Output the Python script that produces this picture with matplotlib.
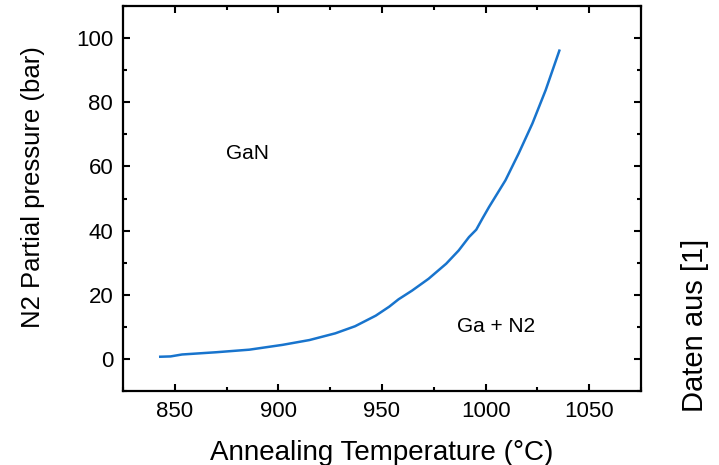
import matplotlib
matplotlib.use("Agg")
import matplotlib.pyplot as plt
from matplotlib.ticker import MultipleLocator

plt.rcParams["font.family"] = ["Liberation Sans", "DejaVu Sans"]

# curve
temperature = [843, 848, 853.5, 870, 886, 902, 915, 927.5, 937, 947, 953.5,
               958, 964.5, 972.5, 981, 987, 992, 995.5, 998.5, 1001.7, 1005.7,
               1009.6, 1016, 1022.6, 1029, 1035.6]
pressure = [0.7, 0.8, 1.4, 2.1, 2.9, 4.4, 5.9, 8.0, 10.2, 13.5, 16.3,
            18.6, 21.3, 25.0, 29.7, 33.8, 38.0, 40.3, 43.8, 47.4, 51.6,
            55.7, 64.1, 73.4, 83.8, 96.1]

fig = plt.figure(figsize=(7.19, 4.65), dpi=100)
ax = fig.add_axes([0.171, 0.159, 0.7205, 0.828])

ax.plot(temperature, pressure, color="#1874CD", lw=1.8)

ax.set_xlim(825, 1075)
ax.set_ylim(-10, 110)
ax.xaxis.set_major_locator(MultipleLocator(50))
ax.xaxis.set_minor_locator(MultipleLocator(25))
ax.yaxis.set_major_locator(MultipleLocator(20))
ax.yaxis.set_minor_locator(MultipleLocator(10))
ax.tick_params(which="both", direction="in", top=True, right=True, width=1.5,
               labelsize=16, pad=7)
ax.tick_params(which="major", length=5)
ax.tick_params(which="minor", length=3)
for s in ax.spines.values():
    s.set_linewidth(1.6)

ax.set_xlabel("Annealing Temperature (°C)", fontsize=20, labelpad=13)
ax.set_ylabel("N2 Partial pressure (bar)", fontsize=18.5)
ax.yaxis.set_label_coords(-0.15, 0.53)

ax.text(885, 64, "GaN", fontsize=15, ha="center", va="center")
ax.text(1005, 10, "Ga + N2", fontsize=15, ha="center", va="center")

fig.text(0.966, 0.30, "Daten aus [1]", rotation=90, fontsize=21,
         ha="center", va="center")

fig.savefig("out.png")
